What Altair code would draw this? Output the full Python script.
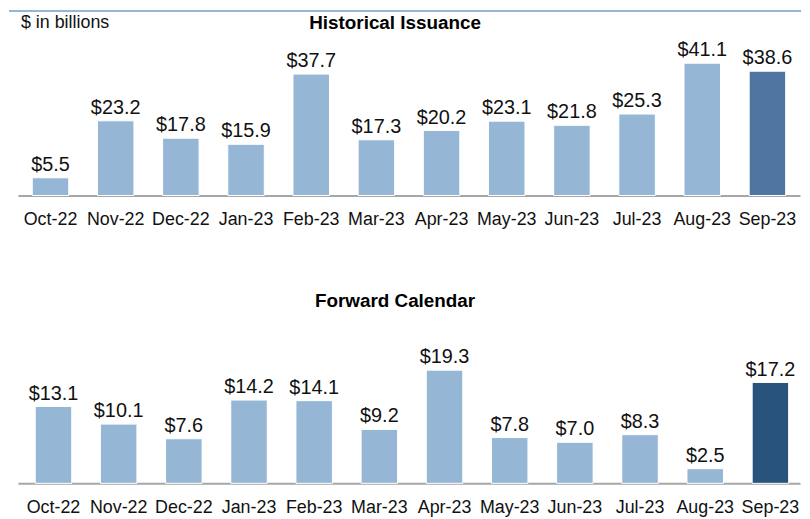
import altair as alt
import pandas as pd

months = ["Oct-22", "Nov-22", "Dec-22", "Jan-23", "Feb-23", "Mar-23",
          "Apr-23", "May-23", "Jun-23", "Jul-23", "Aug-23", "Sep-23"]
historical = [5.5, 23.2, 17.8, 15.9, 37.7, 17.3, 20.2, 23.1, 21.8, 25.3, 41.1, 38.6]
forward = [13.1, 10.1, 7.6, 14.2, 14.1, 9.2, 19.3, 7.8, 7.0, 8.3, 2.5, 17.2]

LIGHT = "#95B7D5"
TOP_HI = "#4F76A1"
BOT_HI = "#28547C"
FONT = "Liberation Sans"

def make_df(vals, hi_color):
    return pd.DataFrame({
        "month": months,
        "value": vals,
        "label": [f"${v:.1f}" for v in vals],
        "col": [hi_color if m == months[-1] else LIGHT for m in months],
    })

def panel(vals, ymax, height, hi_color, title, title_dy, shift=0, extra=None):
    df = make_df(vals, hi_color)
    x = alt.X("month:N", sort=months, title=None,
              scale=alt.Scale(paddingInner=0.44, paddingOuter=0.22),
              axis=alt.Axis(labelAngle=0, ticks=False, domainColor="#A6A6A6",
                            domainWidth=2, labelFontSize=18, labelFont=FONT,
                            labelColor="#111111", labelPadding=15, labelOffset=shift))
    y = alt.Y("value:Q", scale=alt.Scale(domain=[0, ymax], nice=False), axis=None)
    base = alt.Chart(df).encode(x=x, y=y)
    bars = base.mark_bar(stroke="white", strokeWidth=1, xOffset=shift).encode(
        color=alt.Color("col:N", scale=None, legend=None)
    )
    labels = base.mark_text(baseline="alphabetic", dy=-7, dx=shift, fontSize=20, font=FONT,
                            color="#111111").encode(text="label:N")
    ttl = alt.Chart(pd.DataFrame({"t": [title]})).mark_text(
        fontSize=19, fontWeight="bold", font=FONT, color="#000000", baseline="alphabetic", align="center"
    ).encode(text="t:N", x=alt.value(380), y=alt.value(title_dy))
    layers = [bars, labels, ttl]
    if extra is not None:
        layers += extra
    return alt.layer(*layers).properties(width=788, height=height)

line = alt.Chart(pd.DataFrame({"a": [0]})).mark_rule(color="#95B7D5", strokeWidth=2).encode(
    x=alt.value(-9), x2=alt.value(789), y=alt.value(-40)
)
units = alt.Chart(pd.DataFrame({"t": ["$ in billions"]})).mark_text(
    fontSize=18, font=FONT, color="#111111", align="left", baseline="top"
).encode(text="t:N", x=alt.value(3), y=alt.value(-37))

top = panel(historical, 45, 146, TOP_HI, "Historical Issuance", -22, 0, [line, units])
bottom = panel(forward, 22, 130, BOT_HI, "Forward Calendar", -48, 3)

chart = alt.vconcat(top, bottom, spacing=64).properties(
    padding={"left": 0, "top": 0, "right": 0, "bottom": 0},
    autosize=alt.AutoSizeParams(type="pad"),
).configure_view(stroke=None)

chart.save("out.html", embed_options={"renderer": "svg", "actions": False})
